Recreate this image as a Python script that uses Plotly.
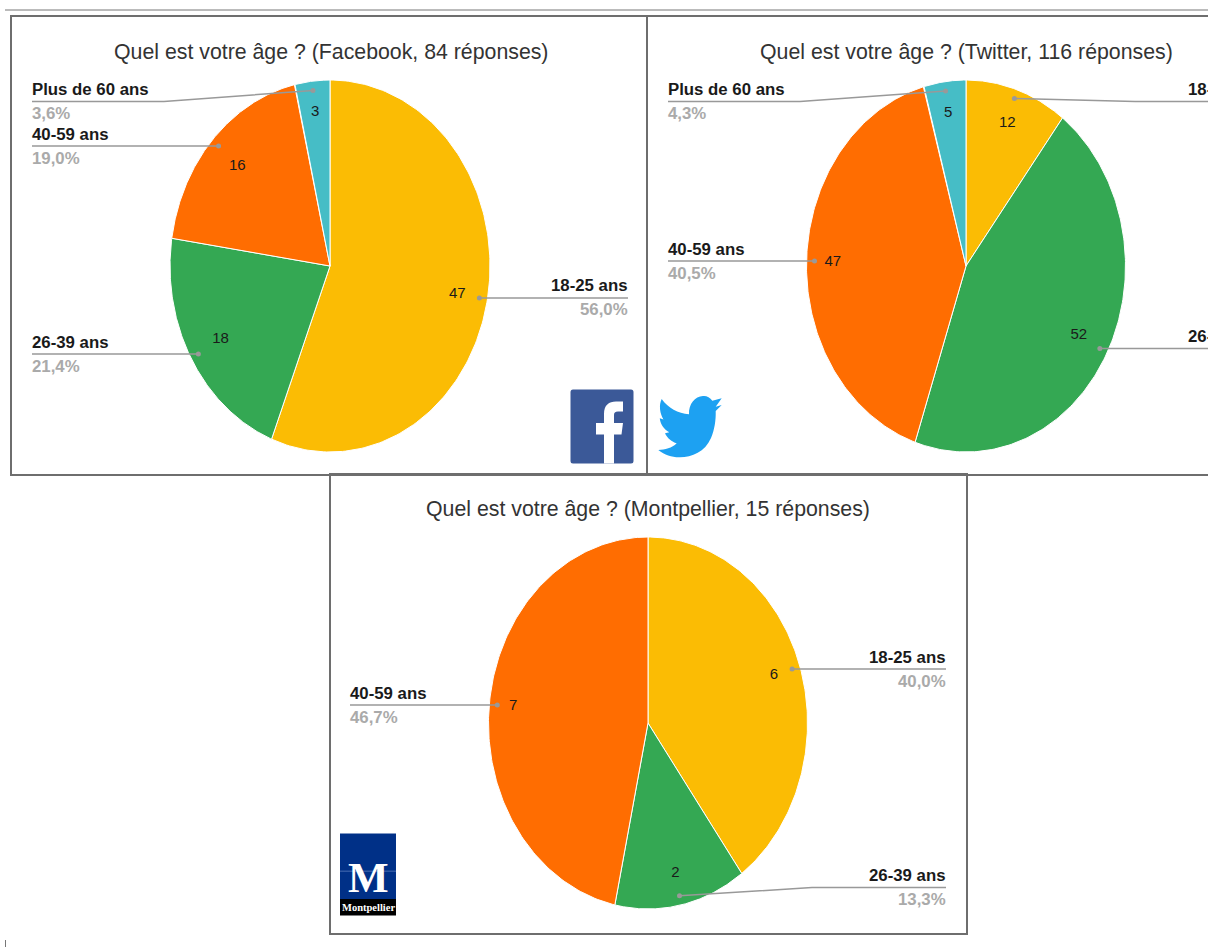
import re
import numpy as np
import plotly.graph_objects as go

W, H = 1208, 947

# ---------- data ----------
categories = ["18-25 ans", "26-39 ans", "40-59 ans", "Plus de 60 ans"]
facebook_values = [47, 18, 16, 3]
twitter_values = [12, 52, 47, 5]
montpellier_values = [6, 2, 7, 0]
titles = [
    "Quel est votre âge ? (Facebook, 84 réponses)",
    "Quel est votre âge ? (Twitter, 116 réponses)",
    "Quel est votre âge ? (Montpellier, 15 réponses)",
]
colors = ["#FBBC04", "#34A853", "#FF6D01", "#46BDC6"]

# ---------- layout (pixels) ----------
# panel box, ellipse centre, radii, title y, label radii, leader layout per category:
# (line y, elbow x, line end x, text side)
panels = [
    dict(values=facebook_values, title=titles[0], box=(11, 16, 647, 475), c=(330, 266), r=(160, 186),
         ty=52.5, tx=330.5, lr=[.81, .79, .79, .83],
         leaders={0: (298, None, 628, "r"), 1: (354, None, 32, "l"),
                  2: (146, None, 32, "l"), 3: (101.5, 164, 32, "l")}),
    dict(values=twitter_values, title=titles[1], box=(647, 16, 1208, 475), c=(966, 266), r=(159.5, 186),
         ty=52.5, tx=966, lr=[.81, .80, .835, .83],
         leaders={0: (101.5, 1135, 1265, "r"), 1: (348.5, None, 1265, "r"),
                  2: (261, None, 668, "l"), 3: (101.5, 800, 668, "l")}),
    dict(values=montpellier_values, title=titles[2], box=(330, 474, 967, 934), c=(648, 723), r=(159.5, 186),
         ty=509, tx=648, lr=[.83, .825, .85],
         leaders={0: (669, None, 946, "r"), 1: (887.5, 812, 946, "r"),
                  2: (705, None, 350, "l")}),
]

FONT = "Liberation Sans"
GREY = "#999999"


def px(x):
    return x / W


def py(y):
    return 1 - y / H


def path_px(d):
    """Convert an SVG path written in page pixels to paper coordinates."""
    parts = re.findall(r"[A-Za-z]|-?\d+\.?\d*", d)
    out, is_x, cmd = [], True, ""
    for p in parts:
        if p.isalpha():
            out.append(p)
            cmd = p
            is_x = cmd != "V"
        else:
            v = float(p)
            out.append(f"{px(v):.5f}" if is_x else f"{py(v):.5f}")
            if cmd not in "HV":
                is_x = not is_x
    return " ".join(out)


fig = go.Figure()
shapes, annotations = [], []


def panel_rect(x0, y0, x1, y1):
    shapes.append(dict(type="rect", xref="paper", yref="paper", x0=px(x0), x1=px(x1), y0=py(y1), y1=py(y0),
                       line=dict(color="#6e6e6e", width=2), fillcolor="rgba(0,0,0,0)", layer="below"))


for i, p in enumerate(panels):
    ax = "" if i == 0 else str(i + 1)
    xa, ya = f"x{ax}", f"y{ax}"
    x0, y0, x1, y1 = p["box"]
    cx, cy = p["c"]
    rx, ry = p["r"]
    dom_x = [px(x0), min(1, px(x1))]
    dom_y = [py(y1), py(y0)]
    fig.update_layout(**{
        f"xaxis{ax}": dict(domain=dom_x, range=[(x0 - cx) / rx, (min(x1, W) - cx) / rx], visible=False,
                           anchor=ya, fixedrange=True),
        f"yaxis{ax}": dict(domain=dom_y, range=[(cy - y1) / ry, (cy - y0) / ry], visible=False,
                           anchor=xa, fixedrange=True),
    })
    vals = np.array(p["values"], dtype=float)
    total = vals.sum()
    cum = 0.0
    for k, v in enumerate(vals):
        if v == 0:
            continue
        a0 = cum / total * 2 * np.pi
        a1 = (cum + v) / total * 2 * np.pi
        cum += v
        t = np.linspace(a0, a1, 180)
        sx = np.concatenate([[0], np.sin(t), [0]])
        sy = np.concatenate([[0], np.cos(t), [0]])
        fig.add_trace(go.Scatter(x=sx, y=sy, mode="lines", fill="toself", fillcolor=colors[k],
                                 line=dict(color="#ffffff", width=1), xaxis=xa, yaxis=ya,
                                 name=categories[k], showlegend=False, hoverinfo="skip"))
    cum = 0.0
    for k, v in enumerate(vals):
        if v == 0:
            continue
        mid = (cum + v / 2) / total * 2 * np.pi
        cum += v
        sin, cos = np.sin(mid), np.cos(mid)
        # value label inside the slice
        fig.add_trace(go.Scatter(x=[p["lr"][k] * sin], y=[p["lr"][k] * cos], mode="text", text=[str(int(v))],
                                 textposition="middle center",
                                 textfont=dict(family=FONT, size=15, color="#1a1a1a"),
                                 xaxis=xa, yaxis=ya, showlegend=False, hoverinfo="skip"))
        # leader line
        ly, elbow, end, side = p["leaders"][k]
        dx, dy = 0.95 * sin, 0.95 * cos
        yy = (cy - ly) / ry
        lx = [dx]
        ln = [dy]
        if elbow is not None:
            lx.append((elbow - cx) / rx)
            ln.append(yy)
        else:
            ln[0] = yy
        lx.append((min(end, W + 5) - cx) / rx)
        ln.append(yy)
        fig.add_trace(go.Scatter(x=lx, y=ln, mode="lines", line=dict(color=GREY, width=1.5),
                                 xaxis=xa, yaxis=ya, showlegend=False, hoverinfo="skip"))
        fig.add_trace(go.Scatter(x=[lx[0]], y=[ln[0]], mode="markers", marker=dict(color=GREY, size=5),
                                 xaxis=xa, yaxis=ya, showlegend=False, hoverinfo="skip"))
        # category and percentage text
        pct = f"{v / total * 100:.1f}".replace(".", ",") + "%"
        anchor = "left" if side == "l" else "right"
        shift = -2 if side == "l" else 2
        for txt, off, col in ((categories[k], -12, "#1a1a1a"), (pct, 12, "#aaaaaa")):
            annotations.append(dict(xref="paper", yref="paper", x=px(end), y=py(ly + off), text=f"<b>{txt}</b>",
                                    showarrow=False, xanchor=anchor, yanchor="middle", xshift=shift,
                                    font=dict(family=FONT, size=16.8, color=col), align=anchor))
    annotations.append(dict(xref="paper", yref="paper", x=px(p["tx"]), y=py(p["ty"]), text=p["title"],
                            showarrow=False, xanchor="center", yanchor="middle",
                            font=dict(family=FONT, size=21.3, color="#333333")))

# frames
panel_rect(11, 16, 647, 475)
panel_rect(647, 16, 1230, 475)
panel_rect(330, 474, 967, 934)
shapes.append(dict(type="line", xref="paper", yref="paper", x0=px(5), x1=1, y0=py(10), y1=py(10),
                   line=dict(color="#777777", width=1)))
shapes.append(dict(type="line", xref="paper", yref="paper", x0=px(5.5), x1=px(5.5), y0=py(947), y1=py(940),
                   line=dict(color="#777777", width=1)))


def logo(d, color):
    shapes.append(dict(type="path", xref="paper", yref="paper", path=path_px(d), fillcolor=color,
                       line=dict(width=0), layer="above"))


def to_lines(d):
    return d


# Facebook logo
logo("M 573 389.5 L 631 389.5 Q 633.5 389.5 633.5 392 L 633.5 461 Q 633.5 463.5 631 463.5 L 573 463.5 "
     "Q 570.5 463.5 570.5 461 L 570.5 392 Q 570.5 389.5 573 389.5 Z", "#3B5998")
logo("M 604 463.5 L 604 434.5 L 596 434.5 L 596 423 L 604 423 L 604 414 C 604 405 609 401.5 616 401.5 "
     "L 623 401.5 L 623 411.5 L 618 411.5 C 615 411.5 614 413 614 415 L 614 423 L 623 423 L 621.5 434.5 "
     "L 614 434.5 L 614 463.5 Z", "#FFFFFF")
# Twitter bird
logo("M 721.7 398.3 L 712.3 400.7 C 710 397 706 395.5 703 396 C 695 396.5 688.5 404 689 414.3 "
     "C 678 413.5 668 408 661.7 399 C 658.5 405 660 414 663.5 419.5 L 659.8 418.3 C 660 423 663.5 429.5 669.3 432.3 "
     "L 665 433.3 C 667 438 672 442 676.7 443.3 C 672 448 665 450 658.3 450 C 665 455 672 457.5 680 457.3 "
     "C 692 457 705 452 711 438 C 714.5 430 716 420 715.7 411 L 721.7 405 L 715.7 406.7 Z", "#1DA1F2")
# Montpellier logo
logo("M 340 833.5 L 396 833.5 L 396 899 L 340 899 Z", "#003087")
logo("M 340 899 L 396 899 L 396 915.5 L 340 915.5 Z", "#000000")
logo("M 340 870.7 L 396 870.7 L 396 871.5 L 340 871.5 Z", "#5f7fbf")
annotations.append(dict(xref="paper", yref="paper", x=px(368), y=py(877), text="<b>M</b>", showarrow=False,
                        xanchor="center", yanchor="middle",
                        font=dict(family="Liberation Serif", size=43, color="#FFFFFF")))
annotations.append(dict(xref="paper", yref="paper", x=px(368), y=py(907.5), text="<b>Montpellier</b>", showarrow=False,
                        xanchor="center", yanchor="middle",
                        font=dict(family="Liberation Serif", size=10.5, color="#FFFFFF")))

fig.update_layout(width=W, height=H, margin=dict(l=0, r=0, t=0, b=0), autosize=False,
                  paper_bgcolor="#ffffff", plot_bgcolor="rgba(0,0,0,0)", showlegend=False,
                  shapes=shapes, annotations=annotations, font=dict(family=FONT))
fig.write_html("out.html", config={"displayModeBar": False},
               post_script="document.body.style.margin='0';document.body.style.overflow='hidden';")
